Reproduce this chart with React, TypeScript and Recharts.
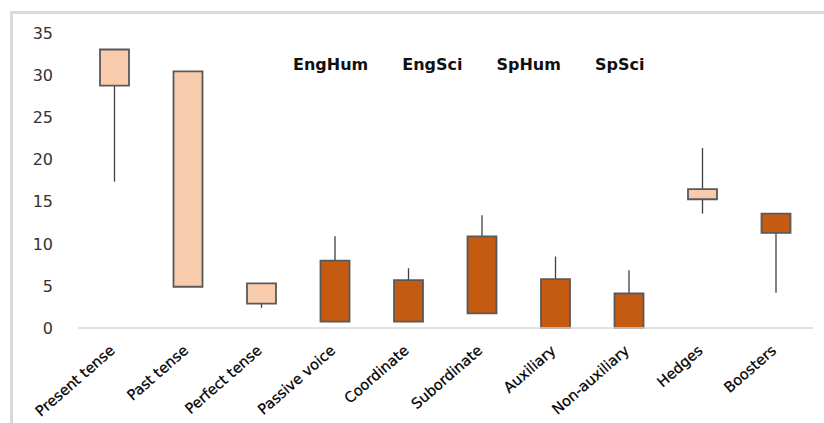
import React from "react";
import { ComposedChart, Bar, XAxis, YAxis, Cell, Legend } from "recharts";

const categories = [
  "Present tense",
  "Past tense",
  "Perfect tense",
  "Passive voice",
  "Coordinate",
  "Subordinate",
  "Auxiliary",
  "Non-auxiliary",
  "Hedges",
  "Boosters",
];

const seriesNames = ["EngHum", "EngSci", "SpHum", "SpSci"];

// Stock-chart style: EngHum = open, EngSci = high, SpHum = low, SpSci = close
const engHum = [28.8, 4.9, 2.9, 8.0, 5.7, 10.9, 5.8, 4.1, 15.3, 13.6];
const engSci = [30.0, 20.3, 4.0, 10.9, 7.1, 13.4, 8.5, 6.85, 21.4, 13.0];
const spHum = [17.4, 12.1, 2.4, 3.0, 2.5, 5.0, 2.0, 1.5, 13.6, 4.2];
const spSci = [33.1, 30.5, 5.3, 0.75, 0.75, 1.75, 0, 0, 16.5, 11.3];

const yTicks = [0, 5, 10, 15, 20, 25, 30, 35];

const data = categories.map((name, i) => {
  const o = engHum[i];
  const h = engSci[i];
  const l = spHum[i];
  const c = spSci[i];
  return {
    name,
    body: [Math.min(o, c), Math.max(o, c)],
    wick: [Math.min(h, l, o, c), Math.max(h, l, o, c)],
    up: c >= o,
  };
});

const LIGHT = "#F8CBAD";
const DARK = "#C55A11";

const WickShape = (props: any) => {
  const { x, y, width, height } = props;
  const cx = x + width / 2;
  return (
    <line x1={cx} x2={cx} y1={y} y2={y + height} stroke="#404040" strokeWidth={1.3} />
  );
};

const XTick = (props: any) => {
  const { x, y, payload } = props;
  return (
    <g transform={`translate(${x + 1},${y + 24}) rotate(-41)`}>
      <text
        x={0}
        y={0}
        textAnchor="end"
        fontFamily="DejaVu Sans"
        fontSize={14.5}
        fill="#000"
        stroke="#000"
        strokeWidth={0.25}
      >
        {payload.value}
      </text>
    </g>
  );
};

const LegendContent = () => (
  <div
    style={{
      display: "flex",
      gap: 34,
      fontFamily: "DejaVu Sans",
      fontWeight: "bold",
      fontSize: 16,
      color: "#111",
      whiteSpace: "nowrap",
    }}
  >
    {seriesNames.map((s) => (
      <span key={s}>{s}</span>
    ))}
  </div>
);

export default function App() {
  return (
    <div
      style={{
        position: "absolute",
        left: 0,
        top: 0,
        width: 824,
        height: 423,
        background: "#fff",
        overflow: "hidden",
      }}
    >
      <div
        style={{
          position: "absolute",
          left: 10,
          top: 11,
          width: 900,
          height: 500,
          borderLeft: "3px solid #d9d9d9",
          borderTop: "3px solid #d9d9d9",
        }}
      />
      <div style={{ position: "absolute", left: 0, top: 0 }}>
        <ComposedChart
          width={824}
          height={423}
          data={data}
          margin={{ top: 33.5, right: 11, bottom: 65, left: 0 }}
          barCategoryGap="20%"
        >
          <XAxis
            dataKey="name"
            interval={0}
            axisLine={{ stroke: "#d9d9d9", strokeWidth: 1.5 }}
            tickLine={false}
            tickSize={0}
            tickMargin={0}
            height={30}
            tick={<XTick />}
          />
          <XAxis xAxisId="w" dataKey="name" hide />
          <YAxis
            width={78}
            domain={[0, 35]}
            ticks={yTicks}
            axisLine={false}
            tickLine={false}
            tickSize={0}
            tickMargin={25}
            tick={{ fontFamily: "DejaVu Sans", fontSize: 16, fill: "#333" }}
          />
          <Legend
            layout="horizontal"
            verticalAlign="middle"
            align="center"
            content={<LegendContent />}
            wrapperStyle={{ position: "absolute", top: 55, left: 293, width: "auto" }}
          />
          <Bar
            xAxisId="w"
            dataKey="wick"
            barSize={29}
            shape={<WickShape />}
            isAnimationActive={false}
            legendType="none"
          />
          <Bar
            dataKey="body"
            barSize={29}
            stroke="#595959"
            strokeWidth={1.8}
            isAnimationActive={false}
          >
            {data.map((d, i) => (
              <Cell key={i} fill={d.up ? LIGHT : DARK} />
            ))}
          </Bar>
        </ComposedChart>
      </div>
    </div>
  );
}
